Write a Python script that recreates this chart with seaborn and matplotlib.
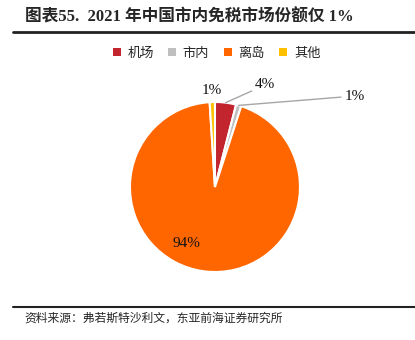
import numpy as np
import matplotlib
matplotlib.use("Agg")
import matplotlib.pyplot as plt
from matplotlib.patches import Patch
from matplotlib.lines import Line2D
import seaborn as sns

sns.set_theme(style="white")
plt.rcParams['font.family'] = ['Liberation Serif', 'Noto Sans CJK SC', 'DejaVu Sans']

# Market share of China's duty-free channels, 2021
categories = ["机场", "市内", "离岛", "其他"]
shares = [4, 1, 94, 1]
colors = ["#C3252F", "#BFBFBF", "#FF6600", "#FFC000"]

fig = plt.figure(figsize=(4.15, 3.4), dpi=100)
fig.patch.set_facecolor("white")

# Title and rule beneath it
fig.text(0.06, 0.948, "图表55.  2021 年中国市内免税市场份额仅 1%", fontsize=12,
         fontweight="bold", ha="left", va="center",
         family=['Liberation Serif', 'Noto Sans CJK SC'])
fig.add_artist(Line2D([0.031, 1.0], [0.906, 0.906], color="#222222", lw=2.0))

# Source footer
fig.add_artist(Line2D([0.031, 1.0], [0.097, 0.097], color="#222222", lw=1.5))
fig.text(0.06, 0.065, "资料来源：弗若斯特沙利文，东亚前海证券研究所", fontsize=8.5,
         ha="left", va="center", family=['Noto Sans CJK SC'])

# Pie
ax = fig.add_axes([0.313, 0.2, 0.41, 0.5])
wedges, _ = ax.pie(shares, colors=colors, startangle=90, counterclock=False,
                   radius=1.0, wedgeprops=dict(edgecolor="white", linewidth=1.5))
ax.set_xlim(-1, 1)
ax.set_ylim(-1, 1)
ax.set_aspect("equal")

def edge_point(w, r=1.0):
    mid = np.deg2rad((w.theta1 + w.theta2) / 2)
    return r * np.cos(mid), r * np.sin(mid)

label_kw = dict(fontsize=11, family=['Liberation Serif'], color="#111111",
                ha="center", va="center")
line_kw = dict(arrowstyle="-", color="#A6A6A6", lw=1.0, shrinkA=0, shrinkB=0)

# 机场
ax.annotate(f"{shares[0]}%", xy=edge_point(wedges[0]), xytext=(0.59, 1.2),
            arrowprops=line_kw, annotation_clip=False, **label_kw)
# 市内
ax.annotate(f"{shares[1]}%", xy=edge_point(wedges[1]), xytext=(1.64, 1.07),
            arrowprops=line_kw, annotation_clip=False, **label_kw)
# 其他
ax.text(-0.035, 1.14, f"{shares[3]}%", clip_on=False, **label_kw)
# 离岛
ax.text(-0.33, -0.66, f"{shares[2]}%", **label_kw)

# Legend
handles = [Patch(facecolor=c, edgecolor="none") for c in colors]
fig.legend(handles, categories, loc="center", bbox_to_anchor=(0.522, 0.843),
           ncol=4, frameon=False, handlelength=0.6, handleheight=0.6,
           handletextpad=0.5, columnspacing=1.1, prop=dict(family=['Noto Sans CJK SC'], size=9.5))

fig.savefig("out.png", dpi=100, facecolor="white")
